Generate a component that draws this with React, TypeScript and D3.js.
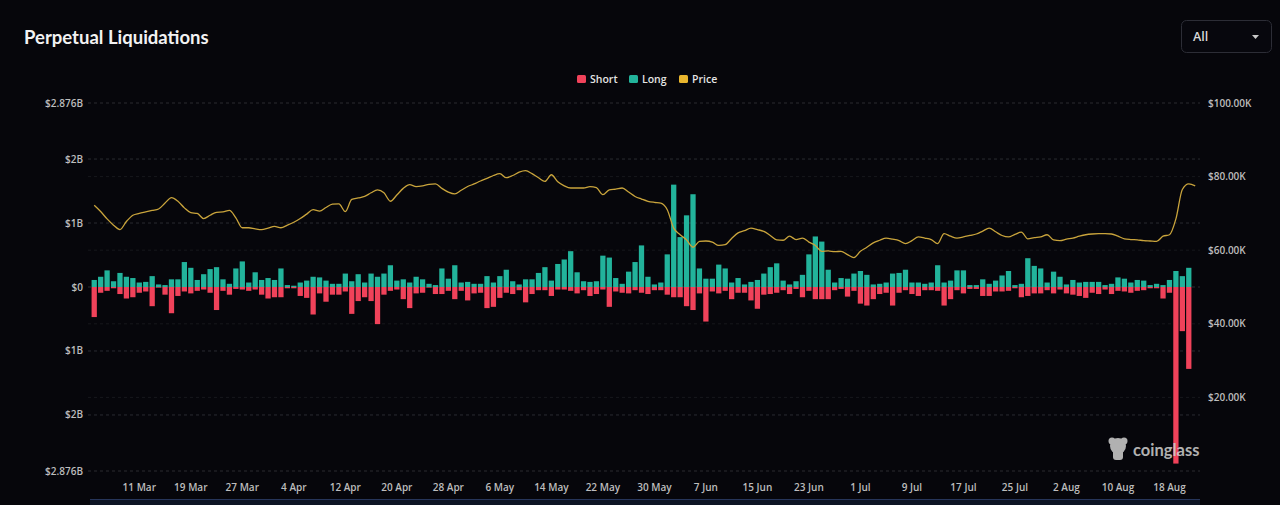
import * as d3 from 'd3'

// daily liquidations in $B, 4 Mar – 21 Aug
const START_DAY = '2025-03-04'

const longValues = [
  0.11, 0.16, 0.26, 0.09, 0.22, 0.16, 0.14, 0.07, 0.08, 0.17,
  0.04, 0.03, 0.12, 0.12, 0.39, 0.30, 0.11, 0.20, 0.28, 0.31,
  0.12, 0.05, 0.29, 0.40, 0.07, 0.23, 0.11, 0.14, 0.11, 0.29,
  0.03, 0.02, 0.07, 0.10, 0.16, 0.15, 0.10, 0.05, 0.05, 0.21,
  0.09, 0.20, 0.07, 0.21, 0.16, 0.21, 0.34, 0.10, 0.12, 0.07,
  0.16, 0.12, 0.05, 0.03, 0.29, 0.13, 0.34, 0.07, 0.08, 0.05,
  0.05, 0.17, 0.07, 0.17, 0.27, 0.09, 0.04, 0.12, 0.12, 0.22,
  0.31, 0.10, 0.36, 0.43, 0.56, 0.23, 0.09, 0.08, 0.09, 0.49,
  0.46, 0.14, 0.05, 0.24, 0.39, 0.65, 0.16, 0.04, 0.07, 0.51,
  1.60, 0.78, 1.12, 1.45, 0.29, 0.13, 0.13, 0.35, 0.29, 0.07,
  0.14, 0.04, 0.08, 0.11, 0.21, 0.31, 0.37, 0.10, 0.04, 0.09,
  0.19, 0.51, 0.79, 0.71, 0.27, 0.07, 0.14, 0.13, 0.21, 0.25,
  0.19, 0.04, 0.05, 0.07, 0.21, 0.22, 0.27, 0.07, 0.07, 0.05,
  0.07, 0.34, 0.07, 0.10, 0.26, 0.26, 0.03, 0.03, 0.12, 0.05,
  0.10, 0.18, 0.25, 0.03, 0.05, 0.45, 0.33, 0.29, 0.07, 0.24,
  0.16, 0.04, 0.11, 0.07, 0.08, 0.08, 0.08, 0.03, 0.05, 0.15,
  0.13, 0.07, 0.11, 0.10, 0.03, 0.05, 0.03, 0.11, 0.25, 0.17, 0.30,
]

const shortValues = [
  0.47, 0.09, 0.06, 0.02, 0.11, 0.18, 0.16, 0.09, 0.07, 0.30,
  0.01, 0.12, 0.41, 0.14, 0.07, 0.10, 0.06, 0.04, 0.09, 0.36,
  0.06, 0.12, 0.03, 0.04, 0.06, 0.04, 0.12, 0.18, 0.16, 0.16,
  0.02, 0.02, 0.14, 0.17, 0.43, 0.10, 0.23, 0.12, 0.12, 0.07,
  0.42, 0.22, 0.16, 0.22, 0.58, 0.12, 0.06, 0.04, 0.19, 0.33,
  0.10, 0.09, 0.01, 0.11, 0.11, 0.06, 0.19, 0.06, 0.21, 0.10,
  0.09, 0.33, 0.31, 0.17, 0.09, 0.11, 0.05, 0.24, 0.11, 0.05,
  0.05, 0.14, 0.04, 0.04, 0.06, 0.10, 0.05, 0.14, 0.11, 0.04,
  0.31, 0.07, 0.09, 0.10, 0.05, 0.09, 0.11, 0.05, 0.05, 0.12,
  0.16, 0.16, 0.30, 0.36, 0.10, 0.54, 0.07, 0.10, 0.06, 0.19,
  0.09, 0.09, 0.21, 0.34, 0.12, 0.11, 0.09, 0.05, 0.11, 0.03,
  0.16, 0.06, 0.19, 0.19, 0.19, 0.05, 0.03, 0.15, 0.06, 0.26,
  0.29, 0.19, 0.11, 0.09, 0.29, 0.09, 0.05, 0.11, 0.14, 0.05,
  0.05, 0.06, 0.29, 0.19, 0.05, 0.10, 0.03, 0.03, 0.14, 0.14,
  0.07, 0.07, 0.06, 0.02, 0.16, 0.14, 0.10, 0.10, 0.05, 0.10,
  0.04, 0.10, 0.12, 0.14, 0.17, 0.09, 0.11, 0.04, 0.11, 0.06,
  0.07, 0.09, 0.06, 0.05, 0.02, 0.02, 0.18, 0.09, 2.76, 0.69, 1.28,
]

// price in $K, one extra day at the end
const priceValues = [
  72.2, 70.5, 68.5, 66.8, 65.6, 67.8, 69.5, 70.0, 70.4, 70.8,
  71.2, 72.8, 74.3, 73.3, 71.5, 70.2, 70.0, 68.6, 69.5, 70.3,
  70.4, 70.8, 68.8, 66.1, 66.1, 65.8, 65.6, 66.0, 66.5, 66.1,
  66.8, 67.6, 68.6, 69.8, 71.0, 70.6, 71.6, 72.5, 72.6, 70.5,
  73.8, 74.2, 74.6, 75.6, 76.4, 75.6, 73.3, 75.0, 76.8, 77.8,
  77.3, 77.5, 77.9, 78.0, 76.8, 75.8, 75.3, 76.3, 77.3, 78.0,
  78.8, 79.5, 80.3, 80.8, 79.7, 80.3, 81.2, 81.6, 80.8, 79.7,
  78.7, 80.5, 78.6, 77.5, 76.9, 76.9, 76.9, 77.3, 77.0, 75.1,
  76.4, 76.6, 76.9, 75.8, 74.6, 73.9, 73.3, 73.0, 72.8, 71.0,
  66.0, 64.2, 62.8, 60.8, 62.4, 62.5, 62.2, 61.3, 61.5, 63.2,
  64.7, 65.3, 66.0, 65.6, 65.1, 64.0, 62.8, 62.7, 63.8, 62.9,
  63.3, 62.2, 61.3, 59.7, 59.8, 59.6, 59.7, 58.8, 58.0, 59.7,
  60.8, 62.0, 62.7, 63.3, 63.0, 62.6, 61.8, 62.6, 63.6, 63.3,
  62.9, 61.8, 64.5, 63.8, 63.3, 63.6, 64.0, 64.4, 65.2, 66.0,
  65.0, 64.0, 63.6, 64.3, 64.9, 63.1, 63.4, 63.6, 64.2, 62.8,
  62.6, 63.0, 63.3, 63.8, 64.2, 64.4, 64.5, 64.5, 64.4, 63.8,
  63.1, 62.9, 62.8, 62.6, 62.5, 62.4, 63.8, 64.2, 68.5, 76.5,
  78.0, 77.5,
]

const xTickLabels = [
  '11 Mar', '19 Mar', '27 Mar', '4 Apr', '12 Apr', '20 Apr', '28 Apr',
  '6 May', '14 May', '22 May', '30 May', '7 Jun', '15 Jun', '23 Jun',
  '1 Jul', '9 Jul', '17 Jul', '25 Jul', '2 Aug', '10 Aug', '18 Aug',
]
const leftTicks = [2.876, 2, 1, 0, -1, -2, -2.876]
const rightTicks = [100, 80, 60, 40, 20]

const legendItems = [
  { label: 'Short', color: '#f0425a' },
  { label: 'Long', color: '#22b39b' },
  { label: 'Price', color: '#e9b62e' },
]

const W = 1280
const H = 505
const plot = { left: 91, right: 1192, top: 103, bottom: 471 }
const FONT = '"Open Sans", "Noto Sans", sans-serif'

export default function App() {
  const start = d3.utcParse('%Y-%m-%d')(START_DAY) as Date
  const days = longValues.map((_, i) => d3.utcDay.offset(start, i))
  const priceDays = priceValues.map((_, i) => d3.utcDay.offset(start, i))

  const x = d3
    .scaleUtc()
    .domain([d3.utcHour.offset(start, -12), d3.utcHour.offset(days[days.length - 1], 12)])
    .range([plot.left, plot.right])
  const dayWidth = x(d3.utcDay.offset(start, 1)) - x(start)
  const barW = dayWidth * 0.82

  const yL = d3.scaleLinear().domain([-2.876, 2.876]).range([plot.bottom, plot.top])
  const yR = d3.scaleLinear().domain([0, 100]).range([plot.bottom, plot.top])

  const parseTick = d3.utcParse('%d %b %Y')
  const ticks = xTickLabels.map(label => ({ label, date: parseTick(`${label} 2025`) as Date }))

  const line = d3
    .line<number>()
    .x((_, i) => x(priceDays[i]))
    .y(v => yR(v))
    .curve(d3.curveMonotoneX)

  const fmtLeft = (v: number) =>
    v === 0 ? '$0' : `$${Math.abs(v) % 1 === 0 ? Math.abs(v).toFixed(0) : Math.abs(v).toFixed(3)}B`

  const legendX = [577, 629, 679]

  return (
    <>
      <style>{`body{margin:0;background:#06060b}`}</style>
      <svg width={W} height={H} viewBox={`0 0 ${W} ${H}`} style={{ display: 'block', fontFamily: FONT }}>
        <rect width={W} height={H} fill="#06060b" />

        <text x={24} y={44} fill="#f2f2f2" fontSize={18.5} fontWeight={700} fontFamily="Lato, sans-serif">
          Perpetual Liquidations
        </text>

        {/* range selector */}
        <rect x={1181.5} y={20.5} width={90} height={32} rx={5} fill="#07070d" stroke="#2c2d36" />
        <text x={1193} y={41} fill="#d8d8d8" fontSize={12.5} fontWeight={600}>All</text>
        <path d="M1252,35 L1259,35 L1255.5,39 Z" fill="#c8c8c8" />

        {/* legend */}
        {legendItems.map((item, i) => (
          <g key={item.label}>
            <rect x={legendX[i]} y={75} width={9} height={8} rx={1.5} fill={item.color} />
            <text x={legendX[i] + 13} y={82.5} fill="#e4e4e4" fontSize={10.5} fontWeight={600}>
              {item.label}
            </text>
          </g>
        ))}

        {/* grid */}
        {leftTicks.map(v => (
          <g key={`l${v}`}>
            <line
              x1={88}
              x2={1200}
              y1={yL(v)}
              y2={yL(v)}
              stroke="#2a2b31"
              strokeDasharray="3 3"
            />
            <text x={83} y={yL(v) + 3.5} textAnchor="end" fill="#bdbdbd" fontSize={10} fontWeight={600}>
              {fmtLeft(v)}
            </text>
          </g>
        ))}
        {rightTicks.map(v => (
          <g key={`r${v}`}>
            {v !== 100 && (
              <line
                x1={88}
                x2={1200}
                y1={yR(v)}
                y2={yR(v)}
                stroke="#17181c"
                strokeDasharray="3 3"
              />
            )}
            <text x={1208} y={yR(v) + 3.5} fill="#bdbdbd" fontSize={10} fontWeight={600}>
              {`$${v.toFixed(2)}K`}
            </text>
          </g>
        ))}

        {/* bars */}
        {days.map((d, i) => (
          <g key={i}>
            <rect
              x={x(d) - barW / 2}
              y={yL(longValues[i])}
              width={barW}
              height={yL(0) - yL(longValues[i])}
              fill="#22b39b"
            />
            <rect
              x={x(d) - barW / 2}
              y={yL(0)}
              width={barW}
              height={yL(-shortValues[i]) - yL(0)}
              fill="#f0425a"
            />
          </g>
        ))}

        <path d={line(priceValues) ?? ''} fill="none" stroke="#c9a43c" strokeWidth={1.3} />

        {/* x axis */}
        {ticks.map(t => (
          <text
            key={t.label}
            x={x(t.date)}
            y={491}
            textAnchor="middle"
            fill="#bdbdbd"
            fontSize={10}
            fontWeight={600}
          >
            {t.label}
          </text>
        ))}

        {/* zoom slider strip */}
        <rect x={90} y={499} width={1110} height={8} fill="#0d1424" />
        <line x1={90} x2={1200} y1={499.5} y2={499.5} stroke="#26355a" />

        {/* watermark */}
        <g fill="#cfcfcf" opacity={0.85}>
          <circle cx={1118} cy={446} r={8} />
          <circle cx={1112} cy={441} r={3.5} />
          <circle cx={1124} cy={441} r={3.5} />
          <rect x={1113} y={449} width={10} height={11} rx={3} />
          <text x={1133} y={456} fontSize={16.5} fontWeight={700} fontFamily="Lato, sans-serif">
            coinglass
          </text>
        </g>
      </svg>
    </>
  )
}
